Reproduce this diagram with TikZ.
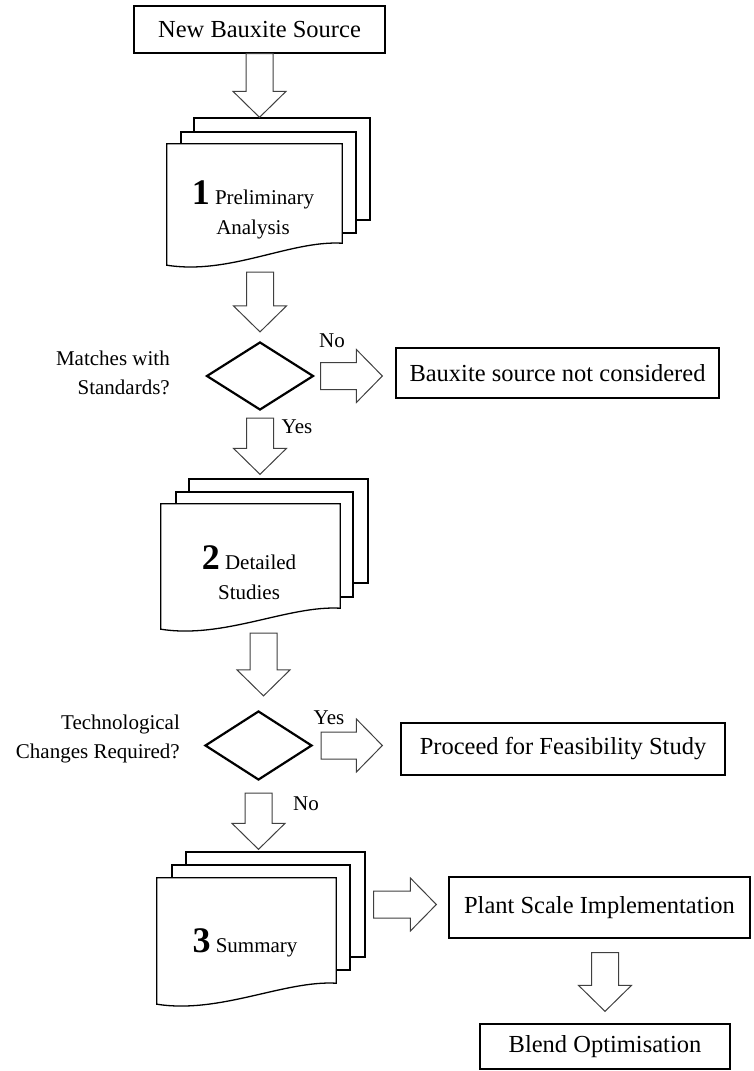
\documentclass[tikz,border=0pt]{standalone}
\usepackage{fontspec}
\setmainfont{Liberation Serif}
\usetikzlibrary{shapes.geometric,calc}

\tikzset{
  box/.style={draw, line width=1.3pt, inner sep=0pt, font=\fontsize{24.5}{27}\selectfont},
  sheet/.style={draw, fill=white, line width=1.3pt, inner sep=0pt},
  front/.style={inner sep=0pt},
  decision/.style={diamond, draw, line width=2.2pt, inner sep=0pt, minimum width=107pt, minimum height=68pt},
  lbl/.style={inner sep=0pt, font=\fontsize{21}{29}\selectfont},
  doctext/.style={inner sep=0pt, align=center, font=\fontsize{21}{30}\selectfont},
  fat/.style={draw=black!75, fill=white, line width=1pt, line join=miter},
}

% block arrow from #1 to the tip #2
\newcommand{\fatarrow}[2]{%
  \coordinate (fa-h) at ($(#2)!26pt!(#1)$);
  \draw[fat] ($(#1)!13.5pt!90:(#2)$) -- ($(fa-h)!13.5pt!-90:(#1)$) -- ($(fa-h)!26.5pt!-90:(#1)$) -- (#2)
    -- ($(fa-h)!26.5pt!90:(#1)$) -- ($(fa-h)!13.5pt!90:(#1)$) -- ($(#1)!13.5pt!-90:(#2)$) -- cycle;}
\newcommand{\docnum}[1]{{\fontsize{36}{36}\selectfont\bfseries #1}}

\begin{document}
\begin{tikzpicture}[x=1pt,y=-1pt]
\useasboundingbox (0,0) rectangle (753,1071);

\node[box, minimum width=251pt, minimum height=47pt] (src) at (259.5,29.5) {New Bauxite Source};

% first stack
\node[sheet, minimum width=176pt, minimum height=102pt] (doc1c) at (282,169) {};
\node[sheet, minimum width=175pt, minimum height=101pt] (doc1b) at (268.5,182.5) {};
\node[front, minimum width=175pt, minimum height=99pt] (doc1) at (254.5,193.5) {};
\draw[sheet] (doc1.north west) -- (doc1.north east) -- (doc1.south east)
  .. controls ([shift={(-52,-3)}]doc1.south east) and ([shift={(63,32)}]doc1.south west) .. ([shift={(0,22)}]doc1.south west) -- cycle;
\node[doctext] (doc1t) at (253,210) {\docnum{1} Preliminary\\Analysis};

\node[decision] (dec1) at (260,376) {};
\node[lbl, anchor=east, align=right] (q1) at (170,372.5) {Matches with\\Standards?};
\node[box, minimum width=323pt, minimum height=50pt] (rej) at (557.5,373) {Bauxite source not considered};
\node[lbl] (no1) at (332,341) {No};
\node[lbl] (yes1) at (297,427) {Yes};

% second stack
\node[sheet, minimum width=179pt, minimum height=104pt] (doc2c) at (278.5,531) {};
\node[sheet, minimum width=177pt, minimum height=105pt] (doc2b) at (264.5,544.5) {};
\node[front, minimum width=179pt, minimum height=104pt] (doc2) at (250.5,556) {};
\draw[sheet] (doc2.north west) -- (doc2.north east) -- (doc2.south east)
  .. controls ([shift={(-52,-3)}]doc2.south east) and ([shift={(63,31)}]doc2.south west) .. ([shift={(0,21)}]doc2.south west) -- cycle;
\node[doctext] (doc2t) at (249,573) {\docnum{2} Detailed\\Studies};

\node[decision, minimum height=69pt] (dec2) at (258.5,745.5) {};
\node[lbl, anchor=east, align=right] (q2) at (180,739) {Technological\\Changes Required?};
\node[box, minimum width=324pt, minimum height=52pt] (feas) at (563,749) {Proceed for Feasibility Study};
\node[lbl] (yes2) at (329,718) {Yes};
\node[lbl] (no2) at (306,804) {No};

% third stack
\node[sheet, minimum width=179pt, minimum height=105pt] (doc3c) at (275.5,904.5) {};
\node[sheet, minimum width=178pt, minimum height=105pt] (doc3b) at (261,917.5) {};
\node[front, minimum width=179pt, minimum height=105pt] (doc3) at (246.5,930.5) {};
\draw[sheet] (doc3.north west) -- (doc3.north east) -- (doc3.south east)
  .. controls ([shift={(-52,-3)}]doc3.south east) and ([shift={(63,31)}]doc3.south west) .. ([shift={(0,21)}]doc3.south west) -- cycle;
\node[doctext] (doc3t) at (245,943) {\docnum{3} Summary};

\node[box, minimum width=301pt, minimum height=61pt] (plant) at (599.5,907.5) {Plant Scale Implementation};
\node[box, minimum width=250pt, minimum height=45pt] (blend) at (605,1046.5) {Blend Optimisation};

% arrows
\coordinate (a1) at (src.south |- doc1c.north);
\fatarrow{src.south}{a1}
\coordinate (a2s) at ($(doc1.south -| dec1.north)+(0,29)$);
\coordinate (a2e) at ($(dec1.north)+(0,-9)$);
\fatarrow{a2s}{a2e}
\coordinate (a3s) at ($(dec1.east)+(6,0)$);
\coordinate (a3e) at ($(dec1.east -| rej.west)+(-13,0)$);
\fatarrow{a3s}{a3e}
\coordinate (a4s) at ($(dec1.south)+(0,7)$);
\coordinate (a4e) at ($(dec1.south |- doc2c.north)+(0,-4)$);
\fatarrow{a4s}{a4e}
\coordinate (a5s) at ($(doc2.south -| dec2.north)+(5,25)$);
\coordinate (a5e) at ($(dec2.north)+(5,-14)$);
\fatarrow{a5s}{a5e}
\coordinate (a6s) at ($(dec2.east)+(8,0)$);
\coordinate (a6e) at ($(dec2.east -| feas.west)+(-18,0)$);
\fatarrow{a6s}{a6e}
\coordinate (a7s) at ($(dec2.south)+(0,12)$);
\coordinate (a7e) at ($(dec2.south |- doc3c.north)+(0,-2)$);
\fatarrow{a7s}{a7e}
\coordinate (a8s) at ($(doc3c.east)+(8,0)$);
\coordinate (a8e) at ($(doc3c.east -| plant.west)+(-12,0)$);
\fatarrow{a8s}{a8e}
\coordinate (a9s) at ($(plant.south -| blend.north)+(0,14)$);
\coordinate (a9e) at ($(blend.north)+(0,-12)$);
\fatarrow{a9s}{a9e}

\end{tikzpicture}
\end{document}
